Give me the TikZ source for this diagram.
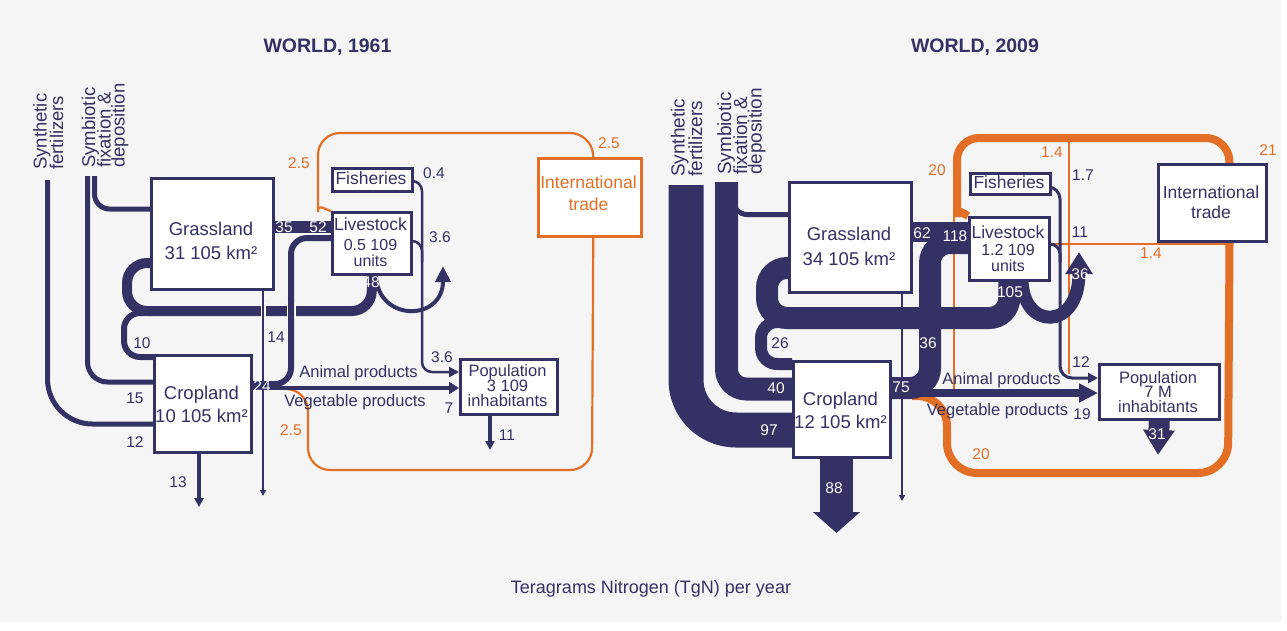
\documentclass[tikz,border=0pt]{standalone}
\usepackage{fontspec}
\setmainfont{Liberation Sans}
\usetikzlibrary{arrows.meta}
\definecolor{navy}{HTML}{343264}
\definecolor{orng}{HTML}{E36F26}
\definecolor{bgc}{HTML}{F5F5F5}
\newcommand{\myfs}[1]{\fontsize{#1}{#1}\selectfont}
\pgfdeclarelayer{back}
\pgfdeclarelayer{flows}
\pgfsetlayers{back,flows,main}
\begin{document}
\begin{tikzpicture}[x=1pt,y=-1pt,
  bx/.style={draw=navy, line width=2.5pt, fill=white, inner sep=0pt, anchor=north west},
  obx/.style={bx, draw=orng},
  tx/.style={text=navy, inner sep=0pt, anchor=base, font=\myfs{16}},
  btx/.style={tx, font=\myfs{18.5}},
  mtx/.style={tx, font=\myfs{17.5}},
  ptx/.style={tx, font=\myfs{16.5}},
  num/.style={text=navy, inner sep=0pt, anchor=center, font=\myfs{15.5}},
  wnum/.style={num, text=white},
  onum/.style={num, text=orng},
  rot/.style={text=navy, inner sep=0pt, anchor=base west, rotate=90, font=\myfs{18.5}},
  nv/.style={draw=navy},
  ol/.style={draw=orng},
]
\useasboundingbox (0,0) rectangle (1287,630);
\begin{pgfonlayer}{back}
\fill[white] (0,0) rectangle (1287,630);
\fill[bgc] (0,0) rectangle (1281,622);
\end{pgfonlayer}

% ================= 1961 boxes =================
\node[bx, minimum width=122pt, minimum height=111pt] (g1) at (150,177) {};
\node[bx, minimum width=79pt, minimum height=62pt] (l1) at (331,211) {};
\node[bx, minimum width=80pt, minimum height=23pt] (f1) at (331,167) {};
\node[obx, minimum width=103pt, minimum height=78pt] (t1) at (537,157) {};
\node[bx, minimum width=97pt, minimum height=97pt] (c1) at (153,354) {};
\node[bx, minimum width=97pt, minimum height=55pt] (p1) at (459,358) {};

% ================= 2009 boxes =================
\node[bx, minimum width=122pt, minimum height=110pt] (g2) at (788,181) {};
\node[bx, minimum width=80pt, minimum height=63pt] (l2) at (968,216) {};
\node[bx, minimum width=80pt, minimum height=21pt] (f2) at (969,172) {};
\node[bx, line width=3pt, minimum width=108pt, minimum height=77pt] (t2) at (1157,163) {};
\node[bx, minimum width=97pt, minimum height=96pt] (c2) at (792,360) {};
\node[bx, minimum width=120pt, minimum height=55pt] (p2) at (1098,363) {};

\begin{pgfonlayer}{flows}
% ---------- 1961 orange ----------
\draw[ol, line width=2.2pt, rounded corners=22pt] ([xshift=3.5pt]t1.north) -- (592,133) -- (318,133) -- (318,190) .. controls (318,204) and (322,208) .. (l1.north west);
\draw[ol, line width=2.2pt, rounded corners=22pt] (284,389) -- (308,389) -- (308,470) -- (592,470) -- ([xshift=3.5pt]t1.south);
% ---------- 1961 navy ----------
\draw[nv, line width=5pt, rounded corners=45pt] (47.5,180) -- (47.5,424) -- (c1.west |- 0,424);
\draw[nv, line width=5pt, rounded corners=20pt] (87.5,176) -- (87.5,382) -- (c1.west |- 0,382);
\draw[nv, line width=5pt, rounded corners=15pt] (94.5,176) -- (94.5,209) -- (g1.west |- 0,209);
\draw[nv, line width=10pt, rounded corners=20pt] (l1.south) -- (l1.south |- 0,311) -- (127,311) -- (127,263) -- (g1.west |- 0,263);
\draw[nv, line width=6pt, rounded corners=16pt] (145,313) -- (124,313) -- (124,357) -- (c1.west |- 0,357);
\draw[nv, line width=12pt] (g1.east |- 0,227) -- (l1.west |- 0,227);
\draw[white, line width=9pt] (291,303) -- (291,319);
\draw[nv, line width=6pt, rounded corners=16pt] (c1.east |- 0,384) -- (291,384) -- (291,238) -- (l1.west |- 0,238);
\draw[nv, line width=4pt, -{Triangle[length=10pt,width=12pt]}] (c1.east |- 0,388) -- (p1.west |- 0,388);
\draw[nv, line width=2.5pt, rounded corners=10pt, -{Triangle[length=10pt,width=10pt]}] (f1.east |- 0,181) -- (422,181) -- (422,372) -- (p1.west |- 0,372);
\draw[nv, line width=2.5pt, rounded corners=10pt] (l1.east |- 0,241) -- (422,241) -- (422,262);
\draw[nv, line width=4pt, -{Triangle[length=16pt,width=15pt]}] (376,276) .. controls (378,322) and (443,322) .. (443,266);
\draw[nv, line width=4pt, -{Triangle[length=9pt,width=9pt]}] (c1.south -| 199,0) -- (199,507);
\draw[nv, line width=4pt, -{Triangle[length=9pt,width=9pt]}] (p1.south -| 490,0) -- (490,450);
\draw[white, line width=5pt] (263,303) -- (263,319);
\draw[nv, line width=2pt, -{Triangle[length=6pt,width=6pt]}] (g1.south -| 263,0) -- (263,496);

% ---------- 2009 orange ----------
\draw[ol, line width=8pt, rounded corners=22pt] ([xshift=17pt]t2.north) -- (1228,138) -- (957,138) -- (957,195) .. controls (957,208) and (961,212) .. (l2.north west);
\draw[ol, line width=8pt, rounded corners=30pt] (912,396) -- (947,396) -- (947,473) -- (1228,473) -- ([xshift=17pt]t2.south);
\draw[ol, line width=2pt] (954,200) -- (954,389);
\draw[ol, line width=2pt] (1069,138) -- (1069,374);
\draw[ol, line width=2pt] (l2.east |- 0,244) -- (1228,244);
% ---------- 2009 navy ----------
\draw[nv, line width=35pt, rounded corners=50pt] (686,185) -- (686,430) -- (c2.west |- 0,430);
\draw[nv, line width=23pt, rounded corners=20pt] (726.5,182) -- (726.5,389) -- (c2.west |- 0,389);
\draw[nv, line width=5pt, rounded corners=14pt] (733,190) -- (733,214.5) -- (g2.west |- 0,214.5);
\draw[nv, line width=22pt, rounded corners=20pt] (l2.south) -- (l2.south |- 0,318) -- (767,318) -- (767,268) -- (g2.west |- 0,268);
\draw[nv, line width=12pt, rounded corners=16pt] (785,322) -- (761,322) -- (761,364) -- (c2.west |- 0,364);
\draw[nv, line width=20pt] (g2.east |- 0,232) -- (l2.west |- 0,232);
\draw[nv, line width=22pt, rounded corners=20pt] (c2.east |- 0,388) -- (930,388) -- (930,243) -- (l2.west |- 0,243);
\draw[nv, line width=8pt, -{Triangle[length=19pt,width=18pt]}] (c2.east |- 0,393) -- (p2.west |- 0,393);
\draw[nv, line width=3pt, rounded corners=12pt, -{Triangle[length=10pt,width=10pt]}] (f2.east |- 0,187) -- (1060,187) -- (1060,378) -- (p2.west |- 0,378);
\draw[nv, line width=3pt, rounded corners=10pt] (l2.east |- 0,244) -- (1060,244) -- (1060,262);
\draw[nv, line width=13pt, -{Triangle[length=22pt,width=26pt]}] (1022,279) .. controls (1022,330) and (1079,332) .. (1079,252);
\draw[nv, line width=33pt, -{Triangle[length=21pt,width=46pt]}] (c2.south -| 836.5,0) -- (836.5,533);
\draw[nv, line width=21pt, -{Triangle[length=25pt,width=30pt]}] (p2.south) -- (1158,455);
\draw[nv, line width=2pt, -{Triangle[length=6pt,width=6pt]}] (g2.south -| 902,0) -- (902,501);
\end{pgfonlayer}

% ================= texts =================
\node[font=\bfseries\myfs{19.5}, text=navy, inner sep=0pt, anchor=base] (ti1) at (327.5,52) {WORLD, 1961};
\node[font=\bfseries\myfs{19.5}, text=navy, inner sep=0pt, anchor=base] (ti2) at (975,52) {WORLD, 2009};
\node[font=\myfs{18}, text=navy, inner sep=0pt, anchor=base] (unit) at (651,593) {Teragrams Nitrogen (TgN) per year};

\node[rot] (sa1) at (46.5,170) {Synthetic};
\node[rot] (sb1) at (63,170) {fertilizers};
\node[rot] (ya1) at (95,168) {Symbiotic};
\node[rot] (yb1) at (110.5,168) {fixation \&};
\node[rot] (yc1) at (124.5,168) {deposition};
\node[rot, font=\myfs{19}] (sa2) at (684.5,177) {Synthetic};
\node[rot, font=\myfs{19}] (sb2) at (702,177) {fertilizers};
\node[rot, font=\myfs{19}] (ya2) at (731,175) {Symbiotic};
\node[rot, font=\myfs{19}] (yb2) at (747,175) {fixation \&};
\node[rot, font=\myfs{19}] (yc2) at (761.5,175) {deposition};

% box texts 1961
\node[btx] (g1a) at (211,235) {Grassland};
\node[btx] (g1b) at (211,259) {31 105 km²};
\node[mtx] (l1a) at (370.5,230) {Livestock};
\node[tx] (l1b) at (370.5,250) {0.5 109};
\node[tx] (l1c) at (370.5,266) {units};
\node[mtx] (f1a) at (371,184) {Fisheries};
\node[mtx, text=orng] (t1a) at (588.5,188) {International};
\node[mtx, text=orng] (t1b) at (588.5,210) {trade};
\node[btx] (c1a) at (201.5,399) {Cropland};
\node[btx] (c1b) at (201.5,422) {10 105 km²};
\node[ptx] (p1a) at (507.5,376) {Population};
\node[ptx] (p1b) at (507.5,391) {3 109};
\node[ptx] (p1c) at (507.5,406) {inhabitants};
\node[ptx] (ap1) at (358.5,377) {Animal products};
\node[ptx] (vp1) at (355,406) {Vegetable products};

% box texts 2009
\node[btx] (g2a) at (849,240) {Grassland};
\node[btx] (g2b) at (849,265) {34 105 km²};
\node[mtx] (l2a) at (1008,238) {Livestock};
\node[tx] (l2b) at (1008,255) {1.2 109};
\node[tx] (l2c) at (1008,271) {units};
\node[mtx] (f2a) at (1009,188) {Fisheries};
\node[mtx] (t2a) at (1211,198) {International};
\node[mtx] (t2b) at (1211,218) {trade};
\node[btx] (c2a) at (840.5,405) {Cropland};
\node[btx] (c2b) at (840.5,428) {12 105 km²};
\node[ptx] (p2a) at (1158,383) {Population};
\node[ptx] (p2b) at (1158,397) {7 M};
\node[ptx] (p2c) at (1158,412) {inhabitants};
\node[ptx] (ap2) at (1001.5,384) {Animal products};
\node[ptx] (vp2) at (997.5,415) {Vegetable products};

% numbers 1961
\node[wnum] (n35) at (284,227) {35};
\node[wnum] (n52) at (318,227) {52};
\node[wnum] (n48) at (371,282) {48};
\node[wnum] (n24) at (262,386) {24};
\node[num] (n10) at (142,343) {10};
\node[num] (n15) at (135,398) {15};
\node[num] (n12) at (135,442) {12};
\node[num] (n13) at (178,482) {13};
\node[num] (n14) at (276,337) {14};
\node[num] (n7) at (449,408) {7};
\node[num] (n11) at (507,435) {11};
\node[num] (n36a) at (442,357) {3.6};
\node[num] (n36b) at (440,237) {3.6};
\node[num] (n04) at (434,173) {0.4};
\node[onum] (o25a) at (291,430) {2.5};
\node[onum] (o25b) at (299,163) {2.5};
\node[onum] (o25c) at (609,143) {2.5};

% numbers 2009
\node[wnum] (m62) at (922,233) {62};
\node[wnum] (m118) at (955,236) {118};
\node[wnum] (m105) at (1010,292) {105};
\node[wnum] (m36c) at (928,343) {36};
\node[wnum] (m40) at (776,388) {40};
\node[wnum] (m97) at (769,430) {97};
\node[wnum] (m75) at (901,387) {75};
\node[wnum] (m88) at (834,488) {88};
\node[wnum] (m36v) at (1080,274) {36};
\node[wnum] (m31) at (1157,434) {31};
\node[num] (m26) at (780,343) {26};
\node[num] (m17) at (1083,175) {1.7};
\node[num] (m11) at (1080,232) {11};
\node[num] (m12) at (1081,362) {12};
\node[num] (m19) at (1082,414) {19};
\node[onum] (q20a) at (937,170) {20};
\node[onum] (q21) at (1268,150) {21};
\node[onum] (q14a) at (1052,152) {1.4};
\node[onum] (q14b) at (1151,253) {1.4};
\node[onum] (q20b) at (981,454) {20};
\end{tikzpicture}
\end{document}
